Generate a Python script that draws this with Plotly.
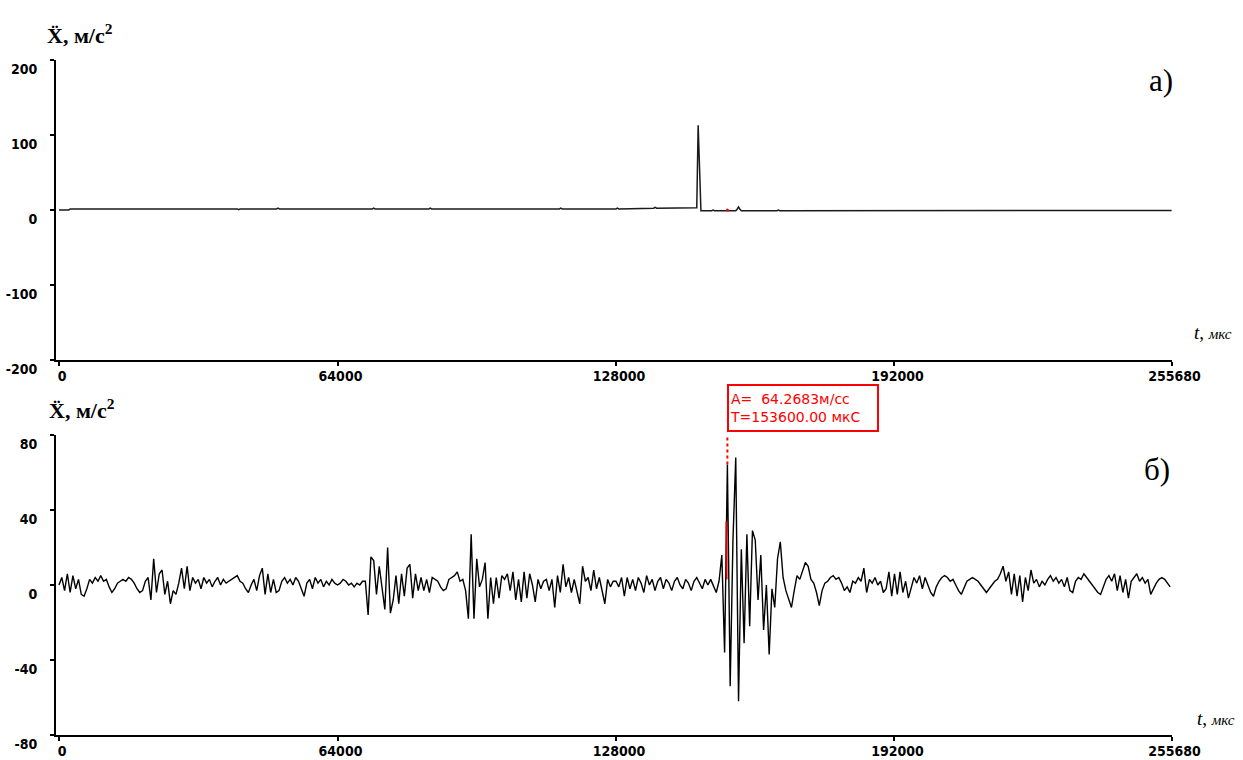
import plotly.graph_objects as go

# ---------------- data ----------------
DT = 640                      # sample step, microseconds
T_MARK = 153600               # cursor time, microseconds
A_MARK = 64.2683              # cursor amplitude, m/s^2

x_ticks = [0, 64000, 128000, 192000, 255680]
x_tick_text = ["0", "64000", "128000", "192000", "255680"]
top_y_ticks = [-200, -100, 0, 100, 200]
bot_y_ticks = [-80, -40, 0, 40, 80]

# panel a) : knots of the (almost flat) record with one impact spike
top_t = [0, 2240, 2560,
         18000, 18320, 18640, 22000, 22320, 22640, 27000, 27320, 27640,
         35000, 35320, 35640, 41000, 41320, 41640, 50000, 50320, 50640,
         60000, 60320, 60640, 72000, 72320, 72640, 85000, 85320, 85640,
         100000, 100320, 100640, 115000, 115320, 115640, 128000, 128320, 128640,
         136000, 136320, 136640, 137000, 137320,
         146560, 146880, 147200, 147520,
         150000, 150320, 150640, 153280, 153600, 153920,
         155520, 155840, 156160, 156480, 156800,
         165000, 165320, 165640, 175000, 175320, 175640, 188000, 188320, 188640,
         200000, 200320, 200640, 214000, 214320, 214640, 228000, 228320, 228640,
         242000, 242320, 242640, 255680]
top_a = [0, 0, 1.5,
         1.5, 2.5, 1.5, 1.5, 2.5, 1.5, 1.5, 2.5, 1.5,
         1.5, 2.5, 1.5, 1.5, 0.5, 1.5, 1.5, 2.5, 1.5,
         1.5, 0.5, 1.5, 1.5, 2.5, 1.5, 1.5, 2.5, 1.5,
         1.5, 0.5, 1.5, 1.5, 2.5, 1.5, 1.5, 2.5, 1.5,
         2, 3, 2.5, 3.5, 2.5,
         3, 113, 56, -1,
         -1, 0, -1, -1, 0, -1,
         -1, 1, 4, 1, -1,
         -1, 0, -1, -1, 0, -1, -1, 0, -1,
         -1, 0, -1, -1, 0, -1, -1, 0, -1,
         -1, 0, -1, -0.5]

# panel б) : acceleration samples every DT microseconds
bot_a = [
    0, 4, -3, 6, -4, 5, -2, 3, -5, -6,
    -2, 3, 1, 4, 2, 5, 2, 3, -1, -4,
    -2, 1, 2, 3, 2, 4, 3, 1, -2, -4,
    -3, 2, 4, -8, 14, -4, 6, 8, -5, 2,
    -10, -3, -5, 1, 9, -2, 10, -3, 4, 1,
    3, -2, 4, 1, 3, -1, 2, 4, 0, 3,
    1, 2, 3, 4, 5, 2, 1, -2, -4, 0,
    3, -3, 5, 9, -5, 6, -4, 3, -4, -3,
    2, 4, 1, 3, 0, 4, 2, -2, -6, 1,
    3, -2, 4, 1, 3, -1, 2, 0, 3, 1,
    0, 1, 3, 2, 0, 1, -1, 1, 0, 2,
    2, -16, 15, 13, -5, 10, -2, -13, 20, -15,
    -8, 5, -10, 6, -6, 9, 11, -7, 6, -3,
    4, -3, 3, -4, 4, 3, 2, -1, -3, -2,
    3, 4, 5, 7, 2, 3, -3, -18, 27, -18,
    14, -1, 3, 12, -18, 4, -10, 4, -7, 5,
    3, 6, -3, 7, -8, 3, -9, 7, -7, 6,
    0, -9, 3, -2, 2, 3, -3, 3, -12, 5,
    -4, 11, -1, 4, -4, 3, -3, -10, 10, 2,
    4, -3, 8, -2, 4, -4, -10, 3, -1, 2,
    2, -1, 4, -6, 4, -2, 3, -3, 4, 1,
    -4, 5, 0, 3, -3, 2, 4, -2, 3, 1,
    -3, 2, 4, 0, -2, 3, 1, -3, 2, 4,
    1, -2, 3, 0, 3, -1, -4, 2, 16, -36,
    64.2683, -54, 24, 68, -62, 19, -31, 27, -22, 29,
    24, -8, 16, -24, 0, -37, -2, -12, 14, 23,
    4, -3, -7, -12, -3, 5, 3, 8, 12, 10,
    3, 1, -4, -11, -3, 1, 2, 4, 5, 3,
    4, 1, -3, -1, -4, 2, 1, 4, 2, 9,
    -4, 3, 1, 4, 0, 2, -4, -2, 7, -6,
    6, -5, 7, -4, 2, -7, -2, 4, 1, 5,
    -2, 4, 0, -4, -6, -1, 2, 4, 5, 4,
    2, 3, 0, -3, -5, -1, 2, 3, 4, 3,
    2, 0, -2, -4, -2, 0, 2, 3, 6, 10,
    2, 7, -5, 6, -6, 5, -9, 4, -3, 8,
    1, 3, -1, 2, 0, 3, 5, 2, 4, 1,
    3, -1, 4, -3, -4, 2, 4, 3, 6, 4,
    2, 0, -2, -4, -5, -1, 3, 5, 2, 6,
    -3, 5, -4, 3, -7, 2, 4, 6, 2, 4,
    1, 3, -5, -2, 1, 3, 4, 3, 1, -1,
]
assert len(top_t) == len(top_a)
bot_t = [i * DT for i in range(len(bot_a))]

# ---------------- layout helpers ----------------
W, H = 1243, 760
L, R, T, B = 56, 71, 60, 25
PW, PH = W - L - R, H - T - B


def px(xp):
    return (xp - L) / PW


def py(yp):
    return (H - B - yp) / PH


TICK_FONT = dict(family="Liberation Sans Narrow, DejaVu Sans Condensed, Liberation Sans, Arial",
                 size=14, color="black", weight="bold")
X_RANGE = [-689, 255772]

fig = go.Figure()
fig.add_trace(go.Scatter(x=top_t, y=top_a, mode="lines",
                         line=dict(color="#1a1a1a", width=1.5),
                         xaxis="x", yaxis="y", hoverinfo="skip", showlegend=False))
fig.add_trace(go.Scatter(x=[T_MARK], y=[0], mode="markers",
                         marker=dict(color="red", size=3),
                         xaxis="x", yaxis="y", hoverinfo="skip", showlegend=False))
fig.add_trace(go.Scatter(x=bot_t, y=bot_a, mode="lines",
                         line=dict(color="black", width=1.4),
                         xaxis="x2", yaxis="y2", hoverinfo="skip", showlegend=False))


def xaxis(anchor):
    return dict(range=X_RANGE, domain=[0, 1], anchor=anchor, automargin=False,
                showline=True, linecolor="black", linewidth=2,
                ticks="outside", ticklen=4, tickwidth=2, tickcolor="black",
                tickvals=x_ticks, ticktext=x_tick_text, tickfont=TICK_FONT,
                ticklabelshift=3, ticklabelstandoff=-2,
                showgrid=False, zeroline=False)


def yaxis(anchor, rng, vals, dom):
    return dict(range=rng, domain=dom, anchor=anchor, automargin=False,
                showline=True, linecolor="black", linewidth=2,
                ticks="outside", ticklen=4, tickwidth=2, tickcolor="black",
                tickvals=vals, ticktext=[str(v) for v in vals], tickfont=TICK_FONT,
                ticklabelshift=9, ticklabelstandoff=10,
                showgrid=False, zeroline=False)


ylab = "<b>X\u0308, м/с<sup>2</sup></b>"
tlab = "<i>t</i>, <i><span style='font-size:15px'>мкс</span></i>"
serif = "Liberation Serif, Times New Roman, serif"

annotations = [
    dict(text=ylab, x=px(45), y=py(50), xref="paper", yref="paper",
         xanchor="left", yanchor="bottom", showarrow=False,
         font=dict(family=serif, size=22, color="black")),
    dict(text=ylab, x=px(47), y=py(425), xref="paper", yref="paper",
         xanchor="left", yanchor="bottom", showarrow=False,
         font=dict(family=serif, size=22, color="black")),
    dict(text=tlab, x=px(1192), y=py(332), xref="paper", yref="paper",
         xanchor="left", yanchor="middle", showarrow=False,
         font=dict(family=serif, size=19, color="black")),
    dict(text=tlab, x=px(1195), y=py(718), xref="paper", yref="paper",
         xanchor="left", yanchor="middle", showarrow=False,
         font=dict(family=serif, size=19, color="black")),
    dict(text="а)", x=px(1147), y=py(81), xref="paper", yref="paper",
         xanchor="left", yanchor="middle", showarrow=False,
         font=dict(family=serif, size=31, color="black")),
    dict(text="б)", x=px(1142), y=py(469), xref="paper", yref="paper",
         xanchor="left", yanchor="middle", showarrow=False,
         font=dict(family=serif, size=31, color="black")),
    dict(text="A=\u00a0 %.4fм/сс<br>T=%.2f мкС" % (A_MARK, T_MARK),
         x=T_MARK, xref="x2", xanchor="left",
         y=py(384), yref="paper", yanchor="top", showarrow=False,
         align="left", width=146, height=42, borderpad=1, borderwidth=2,
         bordercolor="red", bgcolor="white",
         font=dict(family="DejaVu Sans, Liberation Sans, sans-serif", size=14, color="red")),
]

shapes = [
    dict(type="line", xref="x2", yref="y2", x0=T_MARK, x1=T_MARK,
         y0=A_MARK, y1=80, line=dict(color="red", width=2, dash="dot")),
    dict(type="line", xref="x2", yref="y2", x0=T_MARK - 200, x1=T_MARK - 200,
         y0=3, y1=34, line=dict(color="#d00000", width=2)),
]

fig.update_layout(
    width=W, height=H,
    margin=dict(l=L, r=R, t=T, b=B, autoexpand=False),
    paper_bgcolor="white", plot_bgcolor="white",
    showlegend=False,
    xaxis=xaxis("y"),
    yaxis=yaxis("x", [-200, 200], top_y_ticks, [py(360), 1]),
    xaxis2=xaxis("y2"),
    yaxis2=yaxis("x2", [-80, 80], bot_y_ticks, [0, py(435)]),
    annotations=annotations,
    shapes=shapes,
)

fig.write_html("out.html", config={"displayModeBar": False})
